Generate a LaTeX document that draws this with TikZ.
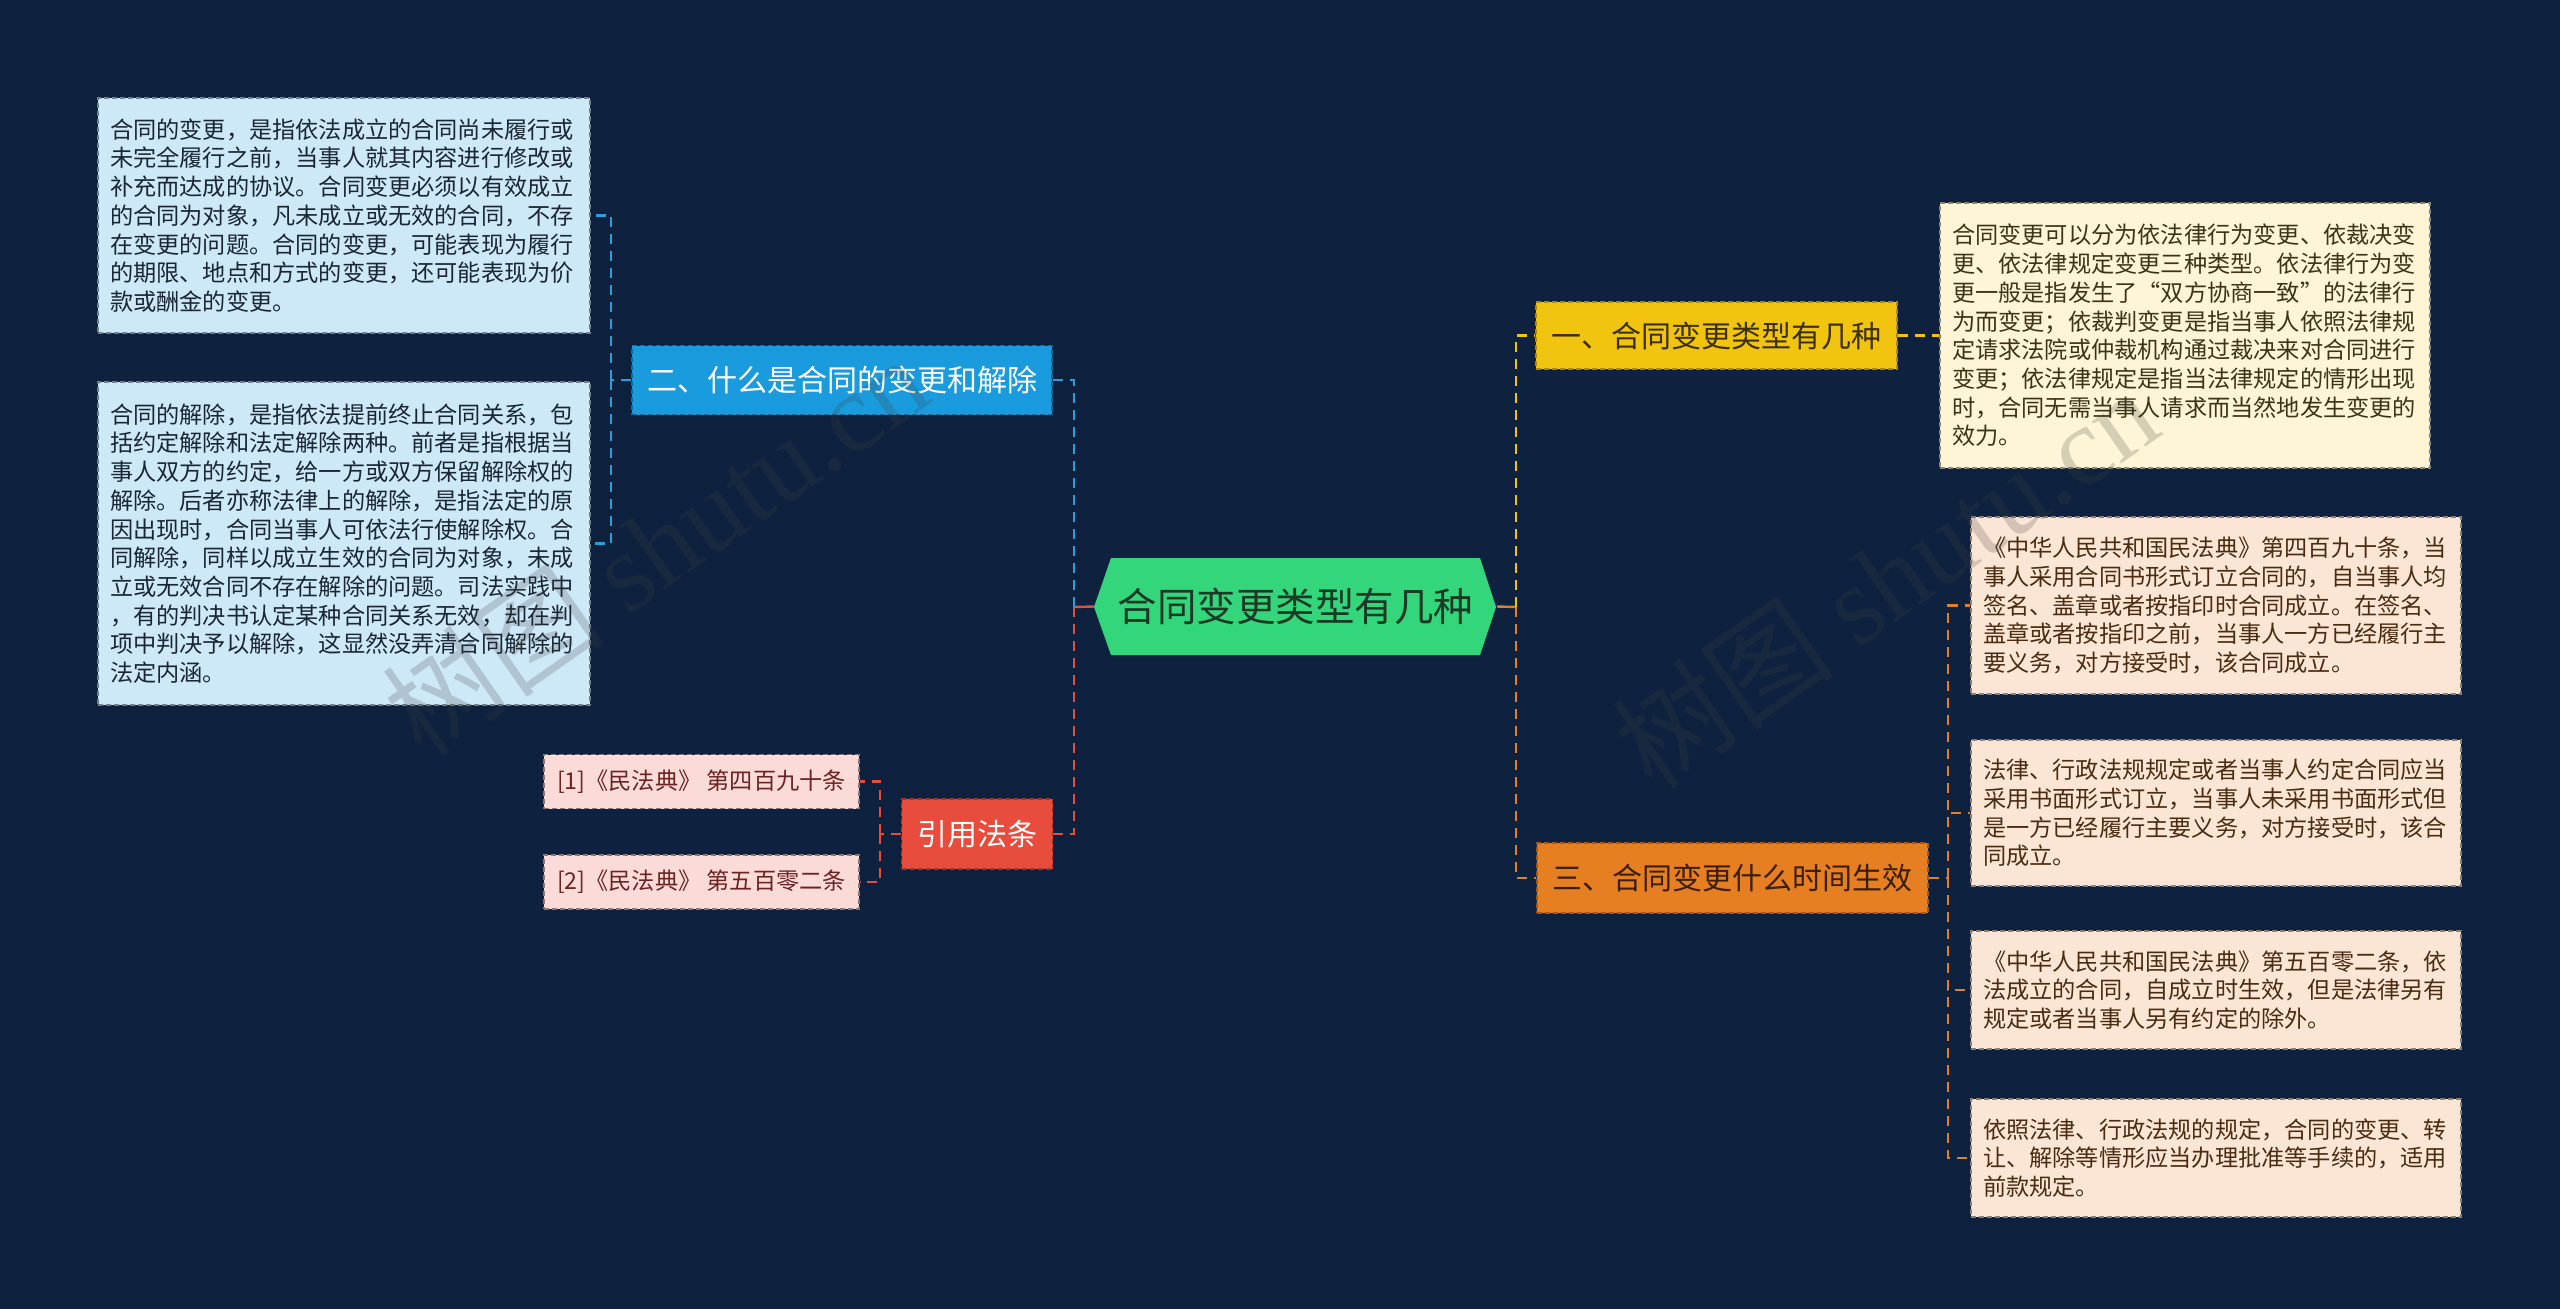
\documentclass[tikz,border=0pt]{standalone}
\usepackage{fontspec}
\setmainfont{Noto Sans CJK SC}
\newfontfamily\wmserif{Liberation Serif}
\definecolor{bgc}{HTML}{0E223F}
\definecolor{lbfill}{HTML}{CDE8F7}
\definecolor{lbtext}{HTML}{1A2633}
\definecolor{bluen}{HTML}{1A9BDD}
\definecolor{bluel}{HTML}{2A9FD9}
\definecolor{redn}{HTML}{E74C3C}
\definecolor{pinkf}{HTML}{FADBD8}
\definecolor{pinkt}{HTML}{6B2323}
\definecolor{greenn}{HTML}{33D67B}
\definecolor{greent}{HTML}{1B3A26}
\definecolor{yellown}{HTML}{F1C40F}
\definecolor{yellowt}{HTML}{3B2F05}
\definecolor{creamf}{HTML}{FDF5D5}
\definecolor{creamt}{HTML}{3A3614}
\definecolor{orangen}{HTML}{E67E22}
\definecolor{oranget}{HTML}{3A1E05}
\definecolor{peachf}{HTML}{FBE5D4}
\definecolor{peacht}{HTML}{4A2C12}
\definecolor{wmc}{HTML}{404040}
\begin{document}
\begin{tikzpicture}[x=1pt,y=-1pt,
  txtbox/.style={dash pattern=on 5pt off 3pt, line width=1.6pt, align=left,
    inner xsep=12pt, inner ysep=0pt, anchor=center,
    font=\fontsize{23.2}{28.7}\selectfont},
  topic/.style={dash pattern=on 5pt off 3pt, line width=1.6pt, align=center,
    inner sep=0pt, anchor=center, font=\fontsize{30}{36}\selectfont},
  refbox/.style={dash pattern=on 5pt off 3pt, line width=1.6pt, align=center,
    inner sep=0pt, anchor=center, font=\fontsize{23.2}{28.7}\selectfont,
    minimum width=315pt, minimum height=54pt},
  conn/.style={line width=2.4pt, dash pattern=on 10pt off 7pt},
  wm/.style={text=wmc, opacity=0.21, rotate=35, font=\fontsize{112}{120}\selectfont}
]
\fill[bgc] (0,0) rectangle (2560,1309);
\useasboundingbox (0,0) rectangle (2560,1309);

% centre hexagon
\fill[greenn] (1094,607) -- (1111,558) -- (1480,558) -- (1496,607) -- (1480,655) -- (1111,655) -- cycle;
\node[inner sep=0pt, minimum width=369pt, minimum height=97pt, text=greent,
  font=\fontsize{39.5}{44}\selectfont] (c) at (1295.5,606.5) {合同变更类型有几种};

% junctions
\coordinate (jC) at (1074,607);
\coordinate (jR) at (1516,607);
\coordinate (jL2) at (611,380);
\coordinate (jRef) at (880,834);
\coordinate (jR3) at (1948,878);

% left topics
\node[topic, fill=bluen, draw=bluen!70!black, text=white, minimum width=420pt, minimum height=69pt] (n2) at (842,380) {二、什么是合同的变更和解除};
\node[topic, fill=redn, draw=redn!70!black, text=white, minimum width=151pt, minimum height=70pt] (n4) at (977,834) {引用法条};

% right topics
\node[topic, fill=yellown, draw=yellown!70!black, text=yellowt, minimum width=361pt, minimum height=67pt] (n1) at (1716.5,335.5) {一、合同变更类型有几种};
\node[topic, fill=orangen, draw=orangen!70!black, text=oranget, minimum width=391pt, minimum height=70pt] (n3) at (1732.5,878) {三、合同变更什么时间生效};

% left detail boxes
\node[txtbox, fill=lbfill, draw=lbfill!55!black, text=lbtext, text width=468pt, minimum height=235pt] (L1) at (344,215.5) {合同的变更，是指依法成立的合同尚未履行或\\
未完全履行之前，当事人就其内容进行修改或\\
补充而达成的协议。合同变更必须以有效成立\\
的合同为对象，凡未成立或无效的合同，不存\\
在变更的问题。合同的变更，可能表现为履行\\
的期限、地点和方式的变更，还可能表现为价\\
款或酬金的变更。};
\node[txtbox, fill=lbfill, draw=lbfill!55!black, text=lbtext, text width=468pt, minimum height=323pt] (L2) at (344,543.5) {合同的解除，是指依法提前终止合同关系，包\\
括约定解除和法定解除两种。前者是指根据当\\
事人双方的约定，给一方或双方保留解除权的\\
解除。后者亦称法律上的解除，是指法定的原\\
因出现时，合同当事人可依法行使解除权。合\\
同解除，同样以成立生效的合同为对象，未成\\
立或无效合同不存在解除的问题。司法实践中\\
，有的判决书认定某种合同关系无效，却在判\\
项中判决予以解除，这显然没弄清合同解除的\\
法定内涵。};

% reference boxes
\node[refbox, fill=pinkf, draw=pinkf!55!black, text=pinkt] (r1) at (701.5,781.5) {[1]《民法典》 第四百九十条};
\node[refbox, fill=pinkf, draw=pinkf!55!black, text=pinkt] (r2) at (701.5,882) {[2]《民法典》 第五百零二条};

% right detail boxes
\node[txtbox, fill=creamf, draw=creamf!55!black, text=creamt, text width=466pt, minimum height=265pt] (R0) at (2185,335.5) {合同变更可以分为依法律行为变更、依裁决变\\
更、依法律规定变更三种类型。依法律行为变\\
更一般是指发生了“双方协商一致”的法律行\\
为而变更；依裁判变更是指当事人依照法律规\\
定请求法院或仲裁机构通过裁决来对合同进行\\
变更；依法律规定是指当法律规定的情形出现\\
时，合同无需当事人请求而当然地发生变更的\\
效力。};
\node[txtbox, fill=peachf, draw=peachf!55!black, text=peacht, text width=466pt, minimum height=177pt] (R1) at (2216,605.5) {《中华人民共和国民法典》第四百九十条，当\\
事人采用合同书形式订立合同的，自当事人均\\
签名、盖章或者按指印时合同成立。在签名、\\
盖章或者按指印之前，当事人一方已经履行主\\
要义务，对方接受时，该合同成立。};
\node[txtbox, fill=peachf, draw=peachf!55!black, text=peacht, text width=466pt, minimum height=146pt] (R2) at (2216,813) {法律、行政法规规定或者当事人约定合同应当\\
采用书面形式订立，当事人未采用书面形式但\\
是一方已经履行主要义务，对方接受时，该合\\
同成立。};
\node[txtbox, fill=peachf, draw=peachf!55!black, text=peacht, text width=466pt, minimum height=118pt] (R3) at (2216,990) {《中华人民共和国民法典》第五百零二条，依\\
法成立的合同，自成立时生效，但是法律另有\\
规定或者当事人另有约定的除外。};
\node[txtbox, fill=peachf, draw=peachf!55!black, text=peacht, text width=466pt, minimum height=118pt] (R4) at (2216,1158) {依照法律、行政法规的规定，合同的变更、转\\
让、解除等情形应当办理批准等手续的，适用\\
前款规定。};

% connectors: centre
\draw[redn, line width=2.4pt] ([xshift=-17pt]c.west) -- (jC);
\draw[orangen, line width=2.4pt] ([xshift=17pt]c.east) -- (jR);
\draw[conn, bluel] (jC) |- (n2.east);
\draw[conn, redn] (jC) |- (n4.east);
\draw[conn, yellown] (jR) |- (n1.west);
\draw[conn, orangen] (jR) |- (n3.west);

% connectors: left
\draw[conn, bluel] (n2.west) -- (jL2);
\draw[conn, bluel] (jL2) |- (L1.east);
\draw[conn, bluel] (jL2) |- (L2.east);
\draw[conn, redn] (n4.west) -- (jRef);
\draw[conn, redn] (jRef) |- (r1.east);
\draw[conn, redn] (jRef) |- (r2.east);

% connectors: right
\draw[conn, yellown] (n1.east) -- (R0.west);
\draw[conn, orangen] (n3.east) -- (jR3);
\draw[conn, orangen] (jR3) |- (R1.west);
\draw[conn, orangen] (jR3) |- (R2.west);
\draw[conn, orangen] (jR3) |- (R3.west);
\draw[conn, orangen] (jR3) |- (R4.west);

% watermarks
\node[wm] (w1) at (655,545) {树图 {\wmserif shutu.cn}};
\node[wm] (w2) at (1885,578) {树图 {\wmserif shutu.cn}};
\end{tikzpicture}
\end{document}
